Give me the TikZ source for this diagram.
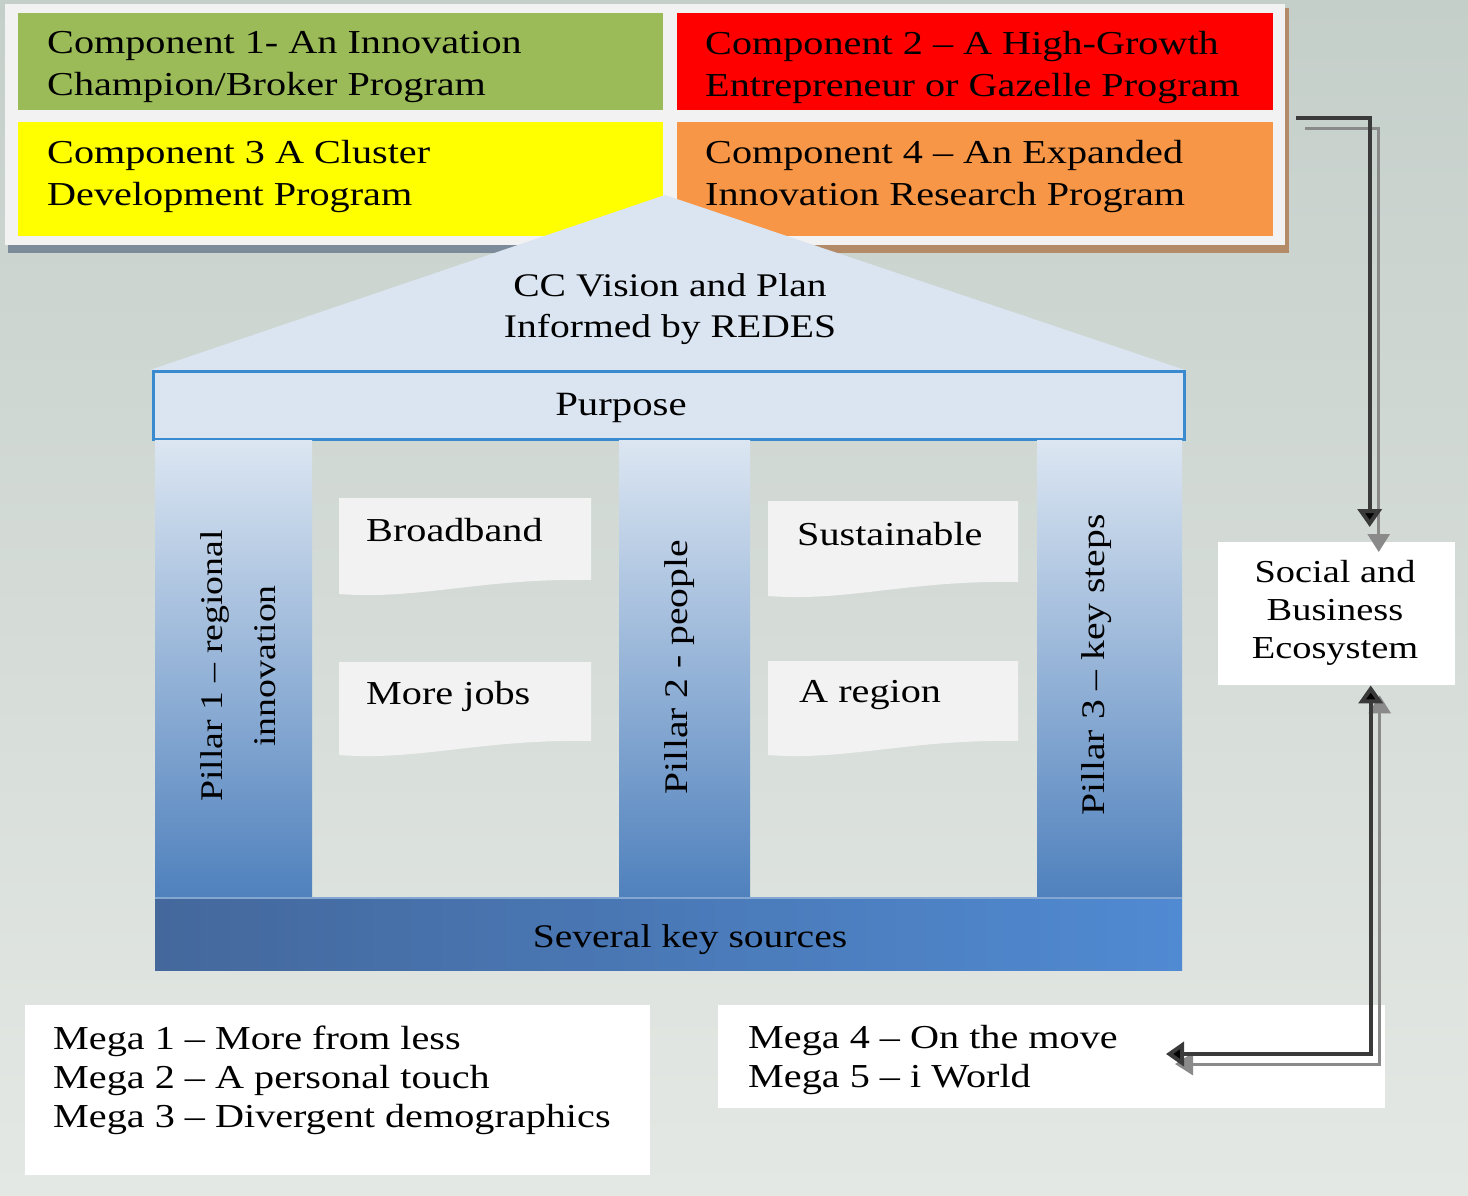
\documentclass[tikz,border=0pt]{standalone}
\usepackage{fontspec}
\setmainfont{Liberation Serif}[FakeStretch=1.2]
\usetikzlibrary{arrows.meta,calc}
\definecolor{bgtop}{HTML}{C5CFCA}
\definecolor{bgbot}{HTML}{E4E8E4}
\definecolor{panelc}{HTML}{F2F2F2}
\definecolor{cgreen}{HTML}{9BBB59}
\definecolor{cred}{HTML}{FF0000}
\definecolor{cyellow}{HTML}{FFFF00}
\definecolor{corange}{HTML}{F79646}
\definecolor{roofc}{HTML}{DBE5F1}
\definecolor{purpb}{HTML}{3A8AD0}
\definecolor{piltop}{HTML}{DCE6F2}
\definecolor{pilbot}{HTML}{4F81BD}
\definecolor{wavec}{HTML}{F2F2F2}
\definecolor{shadl}{HTML}{7B8B99}
\definecolor{shadr}{HTML}{B38B68}
\definecolor{basel}{HTML}{44689C}
\definecolor{baser}{HTML}{508AD2}
\definecolor{arrc}{HTML}{3A3A3A}
\definecolor{arrs}{HTML}{8A8A8A}
\begin{document}
\begin{tikzpicture}[x=1pt,y=-1pt,
  box/.style={rectangle, inner sep=0, minimum width=#1, anchor=north west},
  txt/.style={font=\fontsize{33.5}{42}\selectfont, inner sep=0, align=left, anchor=west},
  ptxt/.style={font=\fontsize{31.5}{53}\selectfont, inner sep=0, align=center, rotate=90},
  wtxt/.style={font=\fontsize{33.5}{38}\selectfont, inner sep=0, anchor=west},
  arr/.style={line width=4pt, draw=arrc, -{Triangle[width=24pt,length=18pt,fill=black]}},
  arrsh/.style={line width=3pt, draw=arrs, -{Triangle[width=22pt,length=18pt,fill=arrs]}},
  darr/.style={line width=4pt, draw=arrc, {Triangle[width=24pt,length=18pt,fill=black]}-{Triangle[width=24pt,length=18pt,fill=black]}},
  darrsh/.style={line width=3pt, draw=arrs, {Triangle[width=22pt,length=18pt,fill=arrs]}-{Triangle[width=22pt,length=18pt,fill=arrs]}}
]
\useasboundingbox (0,0) rectangle (1468,1195);
\shade[top color=bgtop, bottom color=bgbot] (0,0) rectangle (1468,1195);

% top panel with shadow
\fill[shadl] (8,8) rectangle (665,253);
\fill[shadr] (665,8) rectangle (1289,253);
\fill[panelc] (5,4) rectangle (1285,245);

\node[box=645pt, minimum height=97pt, fill=cgreen] (c1box) at (18,13) {};
\node[box=596pt, minimum height=97pt, fill=cred] (c2box) at (677,13) {};
\node[box=645pt, minimum height=114pt, fill=cyellow] (c3box) at (18,122) {};
\node[box=596pt, minimum height=114pt, fill=corange] (c4box) at (677,122) {};

\node[txt] (c1) at (47,67) {Component 1- An Innovation\\Champion/Broker Program};
\node[txt] (c2) at (705,67) {Component 2 – A High-Growth\\Entrepreneur or Gazelle Program};
\node[txt] (c3) at (47,176) {Component 3 A Cluster\\Development Program};
\node[txt] (c4) at (705,176) {Component 4 – An Expanded\\Innovation Research Program};

% roof
\fill[roofc] (665,195) -- (150,370) -- (1185,370) -- cycle;
\node[font=\fontsize{33}{41}\selectfont, align=center, inner sep=0] (vision) at (670,309) {CC Vision and Plan\\Informed by REDES};

% purpose
\node[box=1031pt, minimum height=68pt, fill=roofc, draw=purpb, line width=2.5pt] (purpbox) at (152,370) {};
\node[font=\fontsize{34}{38}\selectfont, inner sep=0] (purpose) at (621,408) {Purpose};

% pillars
\shade[top color=piltop, bottom color=pilbot] (155,440) rectangle (312,897);
\shade[top color=piltop, bottom color=pilbot] (619,440) rectangle (750,897);
\shade[top color=piltop, bottom color=pilbot] (1037,440) rectangle (1182,897);
\node[ptxt] (p1) at (238,666) {Pillar 1 – regional\\innovation};
\node[ptxt, font=\fontsize{33}{53}\selectfont] (p2) at (680,667) {Pillar 2 - people};
\node[ptxt, font=\fontsize{33}{53}\selectfont] (p3) at (1097,665) {Pillar 3 – key steps};

% base
\shade[left color=basel, right color=baser] (155,897) rectangle (1182,970);
\draw[line width=2pt, draw=pilbot!70!white] (155,898) -- (1182,898);
\node[font=\fontsize{33}{38}\selectfont, inner sep=0] (base) at (690,940) {Several key sources};

% wave boxes
\fill[wavec] (339,498) -- (591,498) -- (591,580) .. controls (480,578) and (420,600) .. (339,594) -- cycle;
\fill[wavec] (339,662) -- (591,662) -- (591,741) .. controls (480,739) and (420,761) .. (339,755) -- cycle;
\fill[wavec] (768,501) -- (1018,501) -- (1018,582) .. controls (908,580) and (848,602) .. (768,596) -- cycle;
\fill[wavec] (768,661) -- (1018,661) -- (1018,741) .. controls (908,739) and (848,761) .. (768,755) -- cycle;
\node[wtxt] (w1) at (366,530) {Broadband};
\node[wtxt] (w2) at (366,696) {More jobs};
\node[wtxt] (w3) at (797,534) {Sustainable};
\node[wtxt] (w4) at (799,695) {A region};

% ecosystem
\node[box=237pt, minimum height=143pt, fill=white] (ecobox) at (1218,542) {};
\node[font=\fontsize{32}{38}\selectfont, align=center, inner sep=0] (eco) at (1335,613) {Social and\\Business\\Ecosystem};

% mega boxes
\node[box=625pt, minimum height=170pt, fill=white] (m1box) at (25,1005) {};
\node[box=667pt, minimum height=103pt, fill=white] (m2box) at (718,1005) {};
\node[txt, font=\fontsize{33.5}{39}\selectfont] (m1) at (53,1080) {Mega 1 – More from less\\Mega 2 – A personal touch\\Mega 3 – Divergent demographics};
\node[txt, font=\fontsize{33.5}{39}\selectfont] (m2) at (748,1060) {Mega 4 – On the move\\Mega 5 – i World};

% connectors
\coordinate (a1s) at (1296,118);
\coordinate (m2end) at (1166,1054);
\draw[arrsh, transform canvas={xshift=9pt,yshift=-10pt}] (a1s) -| ($(ecobox.north)+(33,0)$);
\draw[arr, shorten >=15pt] (a1s) -| ($(ecobox.north)+(33,0)$);
\draw[darrsh, transform canvas={xshift=9pt,yshift=-10pt}] ($(ecobox.south)+(34,0)$) |- (m2end);
\draw[darr] ($(ecobox.south)+(34,0)$) |- (m2end);
\end{tikzpicture}
\end{document}
